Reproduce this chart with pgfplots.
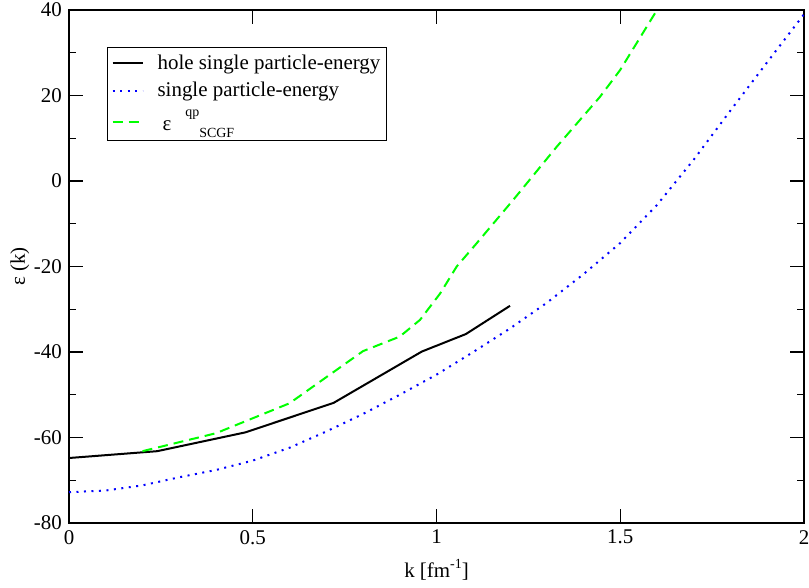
\documentclass[border=0pt]{standalone}
\usepackage{fontspec}
\setmainfont{Liberation Serif}
\usepackage{pgfplots}
\pgfplotsset{compat=1.18}
\pgfplotstableread{
k e
0.00 -64.8
0.24 -63.2
0.48 -58.8
0.72 -51.9
0.96 -39.9
1.08 -35.8
1.20 -29.2
}\hole
\pgfplotstableread{
k e
0.0 -72.8
0.1 -72.4
0.2 -71.2
0.3 -69.3
0.4 -67.6
0.5 -65.4
0.6 -62.4
0.7 -58.6
0.8 -54.5
0.9 -50.0
1.0 -45.3
1.1 -40.0
1.2 -34.5
1.3 -28.5
1.4 -21.8
1.5 -14.5
1.6 -5.6
1.7 5.0
1.8 16.5
1.9 27.8
2.0 39.0
}\spe
\pgfplotstableread{
k e
0.20 -63.2
0.40 -59.0
0.60 -52.0
0.80 -39.8
0.90 -36.4
0.955 -32.5
1.01 -26.3
1.055 -20.0
1.08 -17.5
1.109 -14.6
1.209 -4.4
1.327 8.0
1.445 19.7
1.50 26.0
1.60 40.0
}\scgf
\begin{document}
\fontsize{21}{25}\selectfont
\begin{tikzpicture}
\begin{axis}[
  scale only axis, width=735bp, height=513bp,
  xmin=0, xmax=2, ymin=-80, ymax=40,
  xtick={0,0.5,1,1.5,2}, xticklabels={0,0.5,1,1.5,2},
  ytick={-80,-60,-40,-20,0,20,40},
  yticklabels={-80,-60,-40,-20,0,20,40},
  minor ytick={-70,-50,-30,-10,10,30},
  tick align=inside,
  major tick length=14bp, minor tick length=7bp,
  every tick/.style={black, line width=1.2bp},
  axis line style={line width=1.2bp},
  every tick label/.append style={font=\fontsize{21}{25}\selectfont},
  xlabel={k [fm\raisebox{9bp}{\fontsize{14}{14}\selectfont -1}]},
  ylabel={ε (k)},
  xlabel style={at={(axis description cs:0.5,-0.092)}, anchor=center, font=\fontsize{21}{25}\selectfont},
  ylabel style={at={(axis description cs:-0.067,0.5)}, anchor=center, rotate=0, font=\fontsize{21}{25}\selectfont},
  legend cell align=left,
  legend style={at={(axis description cs:0.0517,0.928)}, anchor=north west,
    draw=black, line width=1.2bp, font=\fontsize{21}{25}\selectfont,
    inner xsep=4bp, inner ysep=5bp, row sep=6bp},
  legend image code/.code={\draw[#1] (0bp,0bp) -- (30bp,0bp); \path (42bp,0bp);},
]
\addplot[black, line width=2bp] table[x=k,y=e]{\hole};
\addlegendentry{hole single particle-energy}
\addplot[blue, line width=2bp, dash pattern=on 2bp off 5.5bp] table[x=k,y=e]{\spe};
\addlegendentry{single particle-energy}
\addplot[color={rgb,255:red,0;green,255;blue,0}, line width=2bp, dash pattern=on 10bp off 6bp] table[x=k,y=e]{\scgf};
\addlegendentry{\hspace{5bp}ε\hspace{14bp}\raisebox{14bp}{\fontsize{14}{14}\selectfont qp}\raisebox{-7bp}{\fontsize{14}{14}\selectfont SCGF}}
\end{axis}
\pgfresetboundingbox
\path (current axis.south west) ++(-69bp,-65bp) rectangle ++(809bp,588bp);
\end{tikzpicture}
\end{document}
